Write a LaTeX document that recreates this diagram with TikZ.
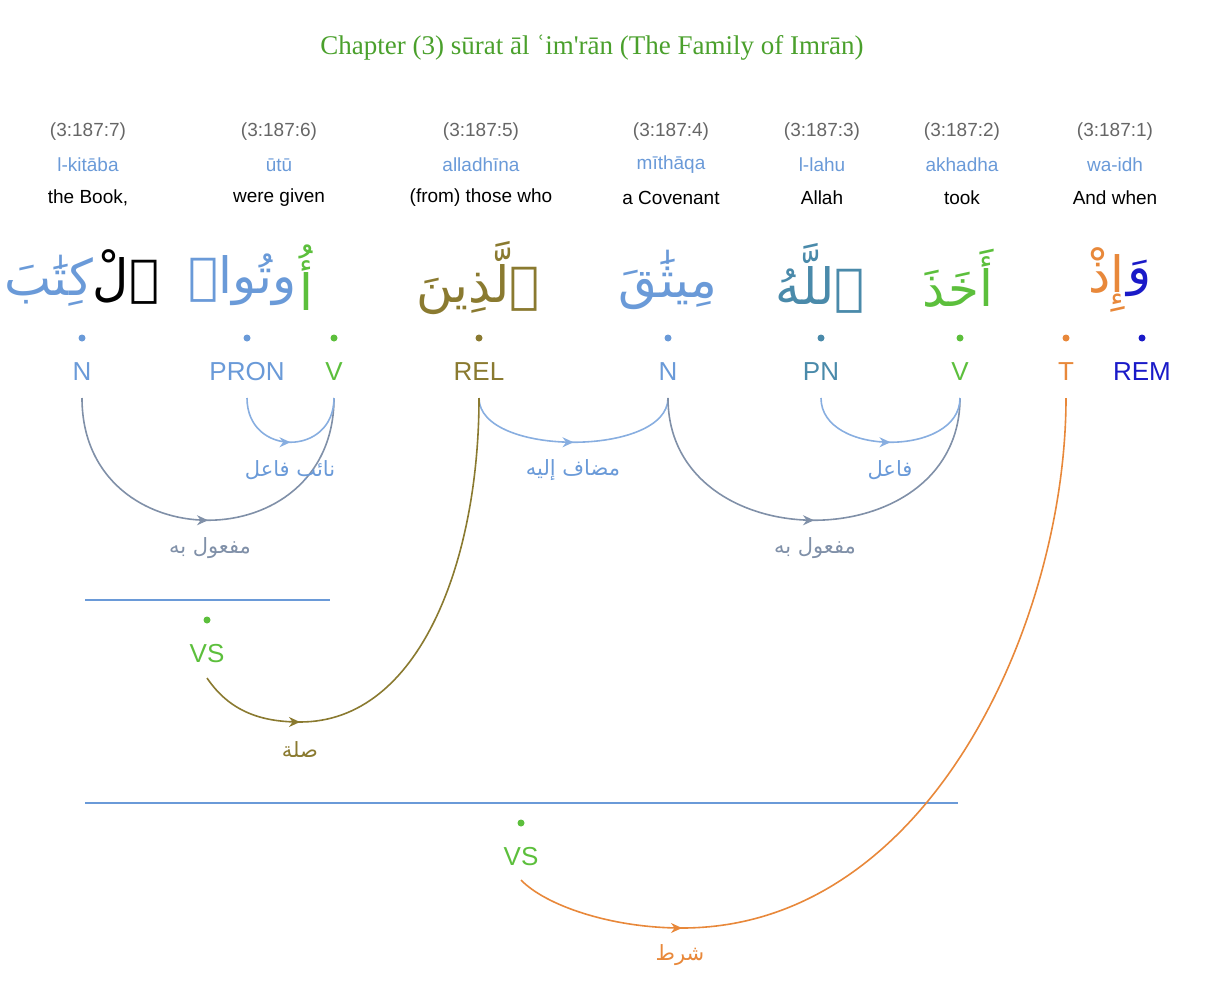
\documentclass[tikz,border=0pt]{standalone}
\usepackage{fontspec}
\setmainfont{Liberation Sans}
\newfontfamily\ttlfont{Liberation Serif}
\newfontfamily\arabicfont[Script=Arabic]{DejaVu Sans}
\TeXXeTstate=1
\usetikzlibrary{arrows.meta,decorations.markings}
\definecolor{cgreen}{HTML}{5CBF3C}
\definecolor{ctitle}{HTML}{4AA02C}
\definecolor{cblue}{HTML}{6A9AD8}
\definecolor{cgrayblue}{HTML}{8090A8}
\definecolor{colive}{HTML}{8A7A30}
\definecolor{cteal}{HTML}{4A8AAA}
\definecolor{corange}{HTML}{E8883A}
\definecolor{cdark}{HTML}{1A1AC8}
\definecolor{cloc}{HTML}{666666}
\definecolor{cword}{HTML}{555555}
\tikzset{
 loc/.style={text=cloc,font=\fontsize{19}{22}\selectfont},
 tr/.style={text=cblue,font=\fontsize{19}{22}\selectfont},
 en/.style={text=black,font=\fontsize{19}{22}\selectfont},
 ar/.style={font=\arabicfont\fontsize{50}{60}\selectfont},
 tag/.style={font=\fontsize{26}{30}\selectfont},
 dot/.style={circle,fill,inner sep=0pt,minimum size=7pt},
 rel/.style={font=\arabicfont\fontsize{21}{24}\selectfont},
 arc/.style={line width=1.6pt,postaction={decorate},decoration={markings,mark=at position 0.5 with {\arrow{Stealth[length=11pt,width=10pt]}}}},
 arch/.style={line width=1.6pt},
 tip/.style={line width=1.6pt,-{Stealth[length=11pt,width=10pt]}},
 x=1pt,y=-1pt
}
\begin{document}
\begin{tikzpicture}
\useasboundingbox (0,0) rectangle (1217,1006);
\node[text=ctitle,font=\ttlfont\fontsize{27}{32}\selectfont] (title) at (592,48) {Chapter (3) sūrat āl ʿim'rān (The Family of Imrān)};
% columns
\foreach \n/\x/\l/\t/\e in {c7/88/7/l-kitāba/{the Book,},c6/279/6/ūtū/were given,c5/481/5/alladhīna/(from) those who,c4/671/4/mīthāqa/a Covenant,c3/822/3/l-lahu/Allah,c2/962/2/akhadha/took,c1/1115/1/wa-idh/And when}{
 \node[loc] (loc\n) at (\x,132) {(3:187:\l)};
 \node[tr] (tr\n) at (\x,165) {\t};
 \node[en] (en\n) at (\x,198) {\e};
}
% arabic words
\node[ar,text=cblue] (w7) at (82,278) {\beginR\textcolor{cword}{ٱلْ}كِتَٰبَ\endR};
\node[ar,text=cblue,anchor=east] (w6b) at (300,280) {\beginR وتُوا۟\endR};
\node[ar,text=cgreen,anchor=west] (w6a) at (296,278) {\beginR أُ\endR};
\node[ar,text=colive] (w5) at (478,278) {\beginR ٱلَّذِينَ\endR};
\node[ar,text=cblue] (w4) at (668,280) {\beginR مِيثَٰقَ\endR};
\node[ar,text=cteal] (w3) at (820,278) {\beginR ٱللَّهُ\endR};
\node[ar,text=cgreen] (w2) at (958,278) {\beginR أَخَذَ\endR};
\node[ar,text=corange,anchor=east] (w1b) at (1128,280) {\beginR إِذْ\endR};
\node[ar,text=cdark,anchor=west] (w1a) at (1124,278) {\beginR وَ\endR};
% dots and tags
\foreach \n/\x/\c/\t in {N7/82/cblue/N,PRON/247/cblue/PRON,V6/334/cgreen/V,REL/479/colive/REL,N4/668/cblue/N,PN/821/cteal/PN,V2/960/cgreen/V,T/1066/corange/T,REM/1142/cdark/REM}{
 \node[dot,fill=\c] (d\n) at (\x,338) {};
 \node[tag,text=\c] (\n) at (\x,372) {\t};
 \coordinate (a\n) at (\x,398);
}
% arcs
\draw[arc,cgrayblue] (aN7) .. controls (82,561) and (334,561) .. (aV6);
\draw[arc,cblue!80] (aPRON) .. controls (247,457) and (334,457) .. (aV6);
\draw[arc,cblue!80] (aREL) .. controls (479,457) and (668,457) .. (aN4);
\draw[arc,cgrayblue] (aN4) .. controls (668,561) and (960,561) .. (aV2);
\draw[arc,cblue!80] (aPN) .. controls (821,457) and (960,457) .. (aV2);
\node[rel,text=cgrayblue] (l1) at (210,548) {\beginR مفعول به\endR};
\node[rel,text=cblue] (l2) at (290,470) {\beginR نائب فاعل\endR};
\node[rel,text=cblue] (l3) at (573,470) {\beginR مضاف إليه\endR};
\node[rel,text=cgrayblue] (l4) at (815,548) {\beginR مفعول به\endR};
\node[rel,text=cblue] (l5) at (890,470) {\beginR فاعل\endR};
% sentence lines
\draw[cblue,line width=1.6pt] (85,600) coordinate (s1a) -- (330,600) coordinate (s1b);
\draw[cblue,line width=1.6pt] (85,803) coordinate (s2a) -- (958,803) coordinate (s2b);
\node[dot,fill=cgreen] (dvs1) at (207,620) {};
\node[tag,text=cgreen] (VS1) at (207,654) {VS};
\node[dot,fill=cgreen] (dvs2) at (521,823) {};
\node[tag,text=cgreen] (VS2) at (521,857) {VS};
\coordinate (v1) at (207,678);
\coordinate (b1) at (300,722);
\coordinate (v2) at (521,880);
\coordinate (b2) at (682,928);
\draw[arch,colive] (v1) .. controls (230,712) and (262,722) .. (b1) .. controls (420,722) and (479,560) .. (aREL);
\draw[tip,colive] (b1) ++(-8,0) -- (b1);
\node[rel,text=colive] (l6) at (300,750) {\beginR صلة\endR};
\draw[arch,corange] (v2) .. controls (545,905) and (610,928) .. (b2) .. controls (930,928) and (1066,620) .. (aT);
\draw[tip,corange] (b2) ++(-8,0) -- (b2);
\node[rel,text=corange] (l7) at (680,955) {\beginR شرط\endR};
\end{tikzpicture}
\end{document}
